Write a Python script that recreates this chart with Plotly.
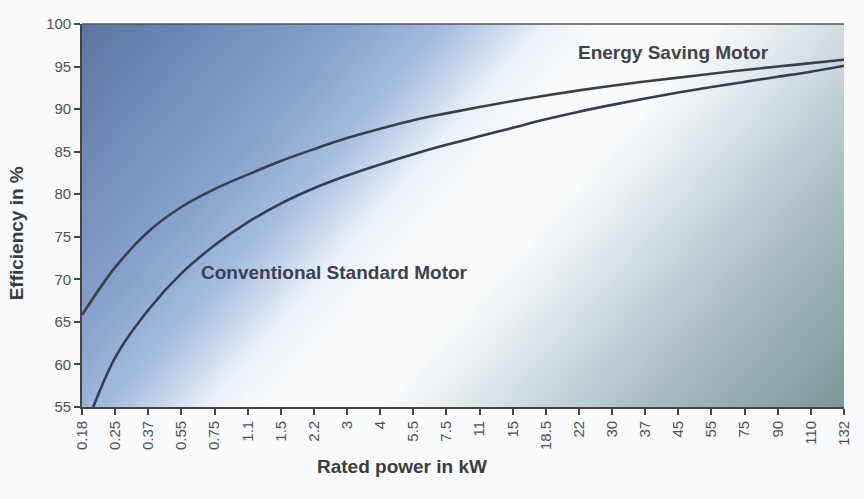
import base64
import plotly.graph_objects as go

# ---- data ----
power_kw = ["0.18", "0.25", "0.37", "0.55", "0.75", "1.1", "1.5", "2.2", "3", "4",
            "5.5", "7.5", "11", "15", "18.5", "22", "30", "37", "45", "55",
            "75", "90", "110", "132"]
energy_saving = [65.8, 71.4, 75.6, 78.5, 80.6, 82.3, 83.9, 85.3, 86.6, 87.7,
                 88.7, 89.5, 90.25, 90.95, 91.6, 92.2, 92.75, 93.25, 93.7, 94.15,
                 94.6, 95.0, 95.4, 95.8]
conventional = [51.5, 60.8, 66.4, 70.7, 74.0, 76.7, 78.9, 80.7, 82.2, 83.5,
                84.7, 85.8, 86.8, 87.8, 88.8, 89.7, 90.5, 91.25, 91.95, 92.6,
                93.2, 93.8, 94.4, 95.1]
y_ticks = [55, 60, 65, 70, 75, 80, 85, 90, 95, 100]

# ---- decorative background gradient (SVG image) ----
W, H = 766, 383
ux, uy = 383 / 512.1, 340 / 512.1
smax = W * ux + H * uy
x2, y2 = smax * ux, smax * uy
stops = [
    (0.00, "#5b74a4"), (0.12, "#6f8bbb"), (0.25, "#87a3cd"), (0.33, "#a3bbdd"),
    (0.38, "#c8d7ec"), (0.42, "#eaf0f7"), (0.47, "#f8fafc"), (0.58, "#f8fafb"),
    (0.64, "#e4ebef"), (0.72, "#c9d6dc"), (0.82, "#a8bcc2"), (0.92, "#8ea8ac"),
    (1.00, "#7c9797"),
]
stop_xml = "".join(f"<stop offset='{o}' stop-color='{c}'/>" for o, c in stops)
svg = (f"<svg xmlns='http://www.w3.org/2000/svg' width='{W}' height='{H}' "
       f"viewBox='0 0 {W} {H}' preserveAspectRatio='none'><defs>"
       f"<linearGradient id='g' gradientUnits='userSpaceOnUse' x1='0' y1='0' "
       f"x2='{x2:.1f}' y2='{y2:.1f}'>{stop_xml}</linearGradient></defs>"
       f"<rect width='{W}' height='{H}' fill='url(#g)'/></svg>")
bg_src = "data:image/svg+xml;base64," + base64.b64encode(svg.encode()).decode()

FONT = "Liberation Sans, Arial, sans-serif"
AXIS_COL = "#444444"

fig = go.Figure()
fig.add_trace(go.Scatter(
    x=power_kw, y=conventional, mode="lines", name="Conventional Standard Motor",
    line=dict(color="#363c52", width=2.6, shape="spline", smoothing=1.0),
    hoverinfo="skip", showlegend=False))
fig.add_trace(go.Scatter(
    x=power_kw, y=energy_saving, mode="lines", name="Energy Saving Motor",
    line=dict(color="#3b3f4a", width=2.6, shape="spline", smoothing=1.0),
    hoverinfo="skip", showlegend=False))

fig.update_layout(
    width=864, height=499,
    margin=dict(l=82, r=16, t=24, b=92),
    paper_bgcolor="#f9fafc",
    plot_bgcolor="rgba(0,0,0,0)",
    font=dict(family=FONT, color="#505050"),
    images=[dict(source=bg_src, xref="paper", yref="paper", x=0, y=1,
                 sizex=1, sizey=1, sizing="stretch", xanchor="left",
                 yanchor="top", layer="below")],
    xaxis=dict(type="category", range=[0, len(power_kw) - 1],
               showgrid=False, zeroline=False,
               showline=True, linecolor=AXIS_COL, linewidth=1.6,
               ticks="outside", ticklen=6, tickwidth=1.6, tickcolor=AXIS_COL,
               tickangle=-90, tickfont=dict(size=15, color="#505050")),
    yaxis=dict(range=[55, 100], tickvals=y_ticks,
               showgrid=False, zeroline=False,
               showline=True, linecolor=AXIS_COL, linewidth=1.6,
               ticks="outside", ticklen=6, tickwidth=1.6, tickcolor=AXIS_COL,
               tickfont=dict(size=15, color="#505050")),
    shapes=[dict(type="line", xref="paper", yref="paper", x0=0, x1=1, y0=1, y1=1,
                 line=dict(color="#555555", width=1.5))],
    annotations=[
        dict(text="<b>Rated power in kW</b>", xref="paper", yref="paper",
             x=(404 - 82) / 766, y=-(467 - 407) / 383, xanchor="center",
             yanchor="middle", showarrow=False,
             font=dict(size=19, color="#3c3c40", family=FONT)),
        dict(text="<b>Efficiency in %</b>", xref="paper", yref="paper",
             x=-(82 - 17) / 766, y=(407 - 233) / 383, xanchor="center",
             yanchor="middle", showarrow=False, textangle=-90,
             font=dict(size=19, color="#3c3c40", family=FONT)),
        dict(text="<b>Energy Saving Motor</b>", xref="paper", yref="paper",
             x=(677 - 82) / 766, y=(407 - 52) / 383, xanchor="center",
             yanchor="middle", showarrow=False,
             font=dict(size=19, color="#3f434c", family=FONT)),
        dict(text="<b>Conventional Standard Motor</b>", xref="paper", yref="paper",
             x=(336 - 82) / 766, y=(407 - 272) / 383, xanchor="center",
             yanchor="middle", showarrow=False,
             font=dict(size=19, color="#3b4152", family=FONT)),
    ],
)

fig.write_html("out.html")
